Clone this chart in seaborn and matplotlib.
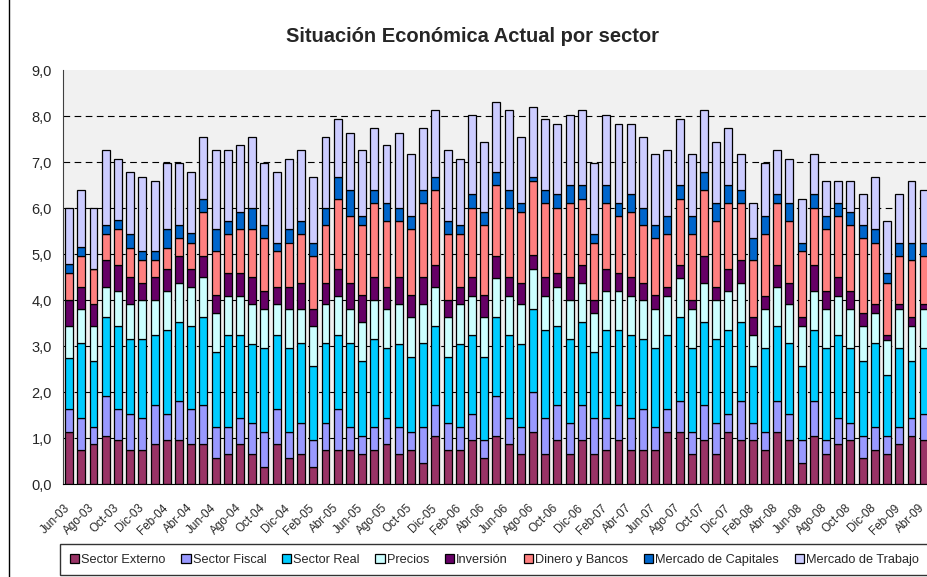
import numpy as np
import matplotlib
matplotlib.use("Agg")
import matplotlib.pyplot as plt
import matplotlib.transforms as mtransforms
from matplotlib.patches import Patch, Rectangle
import seaborn as sns

# Periodos (mensual, Jun-03 a Abr-09)
periodos = ["Jun-03", "Jul-03", "Ago-03", "Sep-03", "Oct-03", "Nov-03", "Dic-03",
            "Ene-04", "Feb-04", "Mar-04", "Abr-04", "May-04", "Jun-04", "Jul-04",
            "Ago-04", "Sep-04", "Oct-04", "Nov-04", "Dic-04",
            "Ene-05", "Feb-05", "Mar-05", "Abr-05", "May-05", "Jun-05", "Jul-05",
            "Ago-05", "Sep-05", "Oct-05", "Nov-05", "Dic-05",
            "Ene-06", "Feb-06", "Mar-06", "Abr-06", "May-06", "Jun-06", "Jul-06",
            "Ago-06", "Sep-06", "Oct-06", "Nov-06", "Dic-06",
            "Ene-07", "Feb-07", "Mar-07", "Abr-07", "May-07", "Jun-07", "Jul-07",
            "Ago-07", "Sep-07", "Oct-07", "Nov-07", "Dic-07",
            "Ene-08", "Feb-08", "Mar-08", "Abr-08", "May-08", "Jun-08", "Jul-08",
            "Ago-08", "Sep-08", "Oct-08", "Nov-08", "Dic-08",
            "Ene-09", "Feb-09", "Mar-09", "Abr-09"]

externo = [1.14, 0.75, 0.86, 1.04, 0.95, 0.75, 0.75, 0.86, 0.95, 0.95, 0.86, 0.86,
           0.56, 0.66, 0.86, 0.66, 0.37, 0.86, 0.56, 0.66, 0.37, 0.75, 0.75, 0.75,
           0.66, 0.75, 0.86, 0.66, 0.75, 0.46, 1.04, 0.75, 0.75, 0.95, 0.56, 1.04,
           0.86, 0.66, 1.14, 0.66, 0.95, 0.66, 0.95, 0.66, 0.75, 0.95, 0.75, 0.75,
           0.75, 1.14, 1.14, 0.66, 0.95, 0.66, 1.14, 0.95, 0.95, 0.75, 1.14,
           0.95, 0.46, 1.04, 0.66, 0.86, 0.95, 0.56, 0.75, 0.66, 0.86, 1.04, 0.95]
fiscal = [0.48, 0.68, 0.37, 0.87, 0.67, 0.78, 0.68, 0.86, 0.57, 0.86, 0.76, 0.86,
          0.67, 0.57, 0.57, 0.67, 0.77, 0.76, 0.58, 0.67, 0.58, 0.58, 0.87, 0.48,
          0.38, 0.48, 0.57, 0.57, 0.39, 0.77, 0.68, 0.58, 0.48, 0.57, 0.39, 0.87,
          0.57, 0.57, 0.87, 0.77, 0.77, 0.67, 0.77, 0.77, 0.68, 0.77, 0.68, 0.87,
          0.48, 0.48, 0.67, 0.48, 0.77, 0.67, 0.38, 0.86, 0.38, 0.39, 0.67,
          0.57, 0.49, 0.77, 0.29, 0.57, 0.38, 0.48, 0.48, 0.38, 0.37, 0.39, 0.57]
real = [1.13, 1.63, 1.44, 1.71, 1.82, 1.62, 1.72, 1.53, 1.82, 1.72, 1.82, 1.90,
        1.63, 2.01, 1.81, 1.72, 1.82, 1.62, 1.82, 1.73, 1.62, 1.73, 1.62, 1.83,
        1.63, 1.92, 1.53, 1.82, 1.62, 1.83, 1.71, 1.43, 1.82, 1.72, 1.81, 1.71,
        1.81, 1.82, 1.79, 1.91, 1.72, 1.82, 1.81, 1.43, 1.91, 1.62, 1.81, 1.53,
        1.73, 1.62, 1.81, 1.82, 1.81, 1.82, 1.82, 1.72, 1.24, 1.82, 1.62,
        1.54, 1.62, 1.53, 2.01, 1.81, 1.63, 1.63, 1.83, 1.34, 1.73, 1.24, 1.44]
precios = [0.68, 0.74, 0.76, 0.66, 0.75, 0.76, 0.85, 0.75, 0.85, 0.85, 0.85, 0.87,
           0.85, 0.85, 0.85, 0.86, 0.84, 0.67, 0.84, 0.74, 0.86, 0.85, 0.85, 0.74,
           0.86, 0.85, 0.84, 0.86, 0.86, 0.85, 0.86, 0.86, 0.86, 0.85, 0.86, 0.86,
           0.85, 0.86, 0.87, 0.75, 0.85, 0.85, 0.85, 0.85, 0.85, 0.85, 0.85, 0.85,
           0.84, 0.85, 0.86, 0.84, 0.85, 0.85, 0.85, 0.85, 0.67, 0.84, 0.86,
           0.85, 0.86, 0.85, 0.84, 0.85, 0.84, 0.76, 0.65, 0.76, 0.84, 0.76, 0.84]
inversion = [0.58, 0.49, 0.48, 0.59, 0.57, 0.58, 0.38, 0.49, 0.49, 0.58, 0.39, 0.47,
             0.39, 0.49, 0.49, 0.58, 0.39, 0.38, 0.49, 0.58, 0.38, 0.47, 0.58, 0.58,
             0.57, 0.49, 0.49, 0.58, 0.48, 0.58, 0.48, 0.38, 0.38, 0.40, 0.48, 0.48,
             0.40, 0.47, 0.30, 0.40, 0.29, 0.49, 0.39, 0.29, 0.48, 0.39, 0.40, 0.38,
             0.30, 0.20, 0.29, 0.20, 0.58, 0.29, 0.48, 0.49, 0.38, 0.29, 0.48,
             0.47, 0.19, 0.58, 0.39, 0.40, 0.39, 0.28, 0.20, 0.11, 0.11, 0.19, 0.11]
dinero = [0.57, 0.67, 0.77, 0.56, 0.78, 0.65, 0.49, 0.38, 0.46, 0.38, 0.57, 0.95,
          0.96, 0.85, 0.96, 1.05, 1.15, 0.77, 0.96, 1.05, 1.15, 1.25, 1.53, 1.44,
          1.53, 1.61, 1.43, 1.23, 1.44, 1.61, 1.62, 1.43, 1.14, 1.52, 1.53, 1.53,
          1.52, 1.54, 1.62, 1.61, 1.43, 1.61, 1.43, 1.25, 1.43, 1.24, 1.43, 1.25,
          1.24, 1.14, 1.43, 1.43, 1.43, 1.43, 1.44, 1.24, 1.25, 1.34, 1.34,
          1.34, 1.44, 1.24, 1.35, 1.33, 1.44, 1.63, 1.34, 1.13, 1.05, 1.25, 1.05]
capitales = [0.20, 0.19, 0.00, 0.21, 0.19, 0.30, 0.20, 0.20, 0.40, 0.29, 0.20, 0.29,
             0.48, 0.29, 0.38, 0.47, 0.29, 0.19, 0.29, 0.29, 0.29, 0.38, 0.48, 0.57,
             0.19, 0.29, 0.38, 0.29, 0.28, 0.29, 0.29, 0.29, 0.20, 0.29, 0.29, 0.29,
             0.38, 0.19, 0.09, 0.29, 0.29, 0.39, 0.29, 0.19, 0.39, 0.29, 0.38, 0.38,
             0.29, 0.39, 0.29, 0.39, 0.39, 0.39, 0.38, 0.28, 0.47, 0.39, 0.19,
             0.38, 0.19, 0.29, 0.28, 0.29, 0.29, 0.29, 0.29, 0.20, 0.29, 0.38, 0.29]
trabajo = [1.23, 1.24, 1.33, 1.62, 1.34, 1.34, 1.61, 1.52, 1.43, 1.34, 1.33, 1.35,
           1.72, 1.54, 1.44, 1.54, 1.34, 1.53, 1.53, 1.54, 1.43, 1.54, 1.25, 1.25,
           1.44, 1.34, 1.26, 1.63, 1.35, 1.34, 1.44, 1.54, 1.44, 1.72, 1.52, 1.53,
           1.73, 1.43, 1.52, 1.54, 1.53, 1.53, 1.63, 1.53, 1.53, 1.72, 1.53, 1.54,
           1.54, 1.44, 1.44, 1.35, 1.34, 1.33, 1.24, 0.78, 0.77, 1.15, 0.96,
           0.97, 0.95, 0.87, 0.77, 0.48, 0.67, 0.67, 1.14, 1.14, 1.05, 1.34, 1.14]

sectores = ["Sector Externo", "Sector Fiscal", "Sector Real", "Precios", "Inversión",
            "Dinero y Bancos", "Mercado de Capitales", "Mercado de Trabajo"]
series = [externo, fiscal, real, precios, inversion, dinero, capitales, trabajo]
colores = ["#993366", "#9999FF", "#00CCFF", "#CCFFFF", "#660066",
           "#FF8080", "#0066CC", "#CCCCFF"]

sns.set_style("white")
plt.rcParams["font.family"] = ["Liberation Sans", "DejaVu Sans"]

fig = plt.figure(figsize=(9.27, 5.77), dpi=100)
ax = fig.add_axes([63 / 927, 93 / 577, 864 / 927, 414 / 577])
ax.set_facecolor("#f1f1f1")

base = np.zeros(len(periodos))
for nombre, valores, col in zip(sectores, series, colores):
    sns.barplot(x=periodos, y=valores, bottom=base, color=col, saturation=1,
                edgecolor="black", linewidth=0.9, width=0.65, errorbar=None, ax=ax)
    base = base + np.array(valores)

ax.set_ylim(0, 9)
ax.set_xlim(-0.5, 70.27)
ax.set_yticks(range(10))
ax.set_yticklabels([f"{v},0" for v in range(10)], fontsize=10.5)
# lineas de division punteadas (sin linea en 9,0)
for v in range(1, 9):
    ax.axhline(v, linestyle=(0, (6, 4)), color="black", linewidth=0.8, zorder=0.5)

ax.set_xticks(range(0, len(periodos), 2))
ax.set_xticklabels(periodos[::2], rotation=45, ha="right", rotation_mode="anchor",
                   fontsize=8.5)
ax.set_xticks(np.arange(-0.5, len(periodos), 2), minor=True)
ax.tick_params(axis="x", which="major", length=0, pad=13)
ax.tick_params(axis="x", which="minor", length=4, width=0.9, color="black", direction="out")
ax.tick_params(axis="y", length=4, width=0.9, color="black", direction="out", pad=4)
ax.set_xlabel("")
ax.set_ylabel("")
offset = mtransforms.ScaledTranslation(-5 / 100, 0, fig.dpi_scale_trans)
for lab in ax.get_xticklabels():
    lab.set_transform(lab.get_transform() + offset)

for s in ["top", "right"]:
    ax.spines[s].set_visible(False)
ax.spines["left"].set_color("#404040")
ax.spines["bottom"].set_color("black")

fig.text(473 / 927, 1 - 37 / 577, "Situación Económica Actual por sector",
         ha="center", va="center", fontsize=14.5, fontweight="bold")

handles = [Patch(facecolor=c, edgecolor="black", linewidth=0.9) for c in colores]
leg = fig.legend(handles, sectores, loc="upper left", ncol=8,
                 bbox_to_anchor=(60 / 927, 1 - 544 / 577), fontsize=9.2,
                 frameon=True, fancybox=False, edgecolor="black", borderpad=0.75,
                 handlelength=0.75, handleheight=0.75, handletextpad=0.15,
                 columnspacing=1.22, borderaxespad=0)
leg.get_frame().set_linewidth(1.0)

fig.add_artist(Rectangle((9 / 927, -0.1), 1.2, 1.2, transform=fig.transFigure,
                         fill=False, edgecolor="black", linewidth=1.0))

fig.savefig("out.png", dpi=100)
